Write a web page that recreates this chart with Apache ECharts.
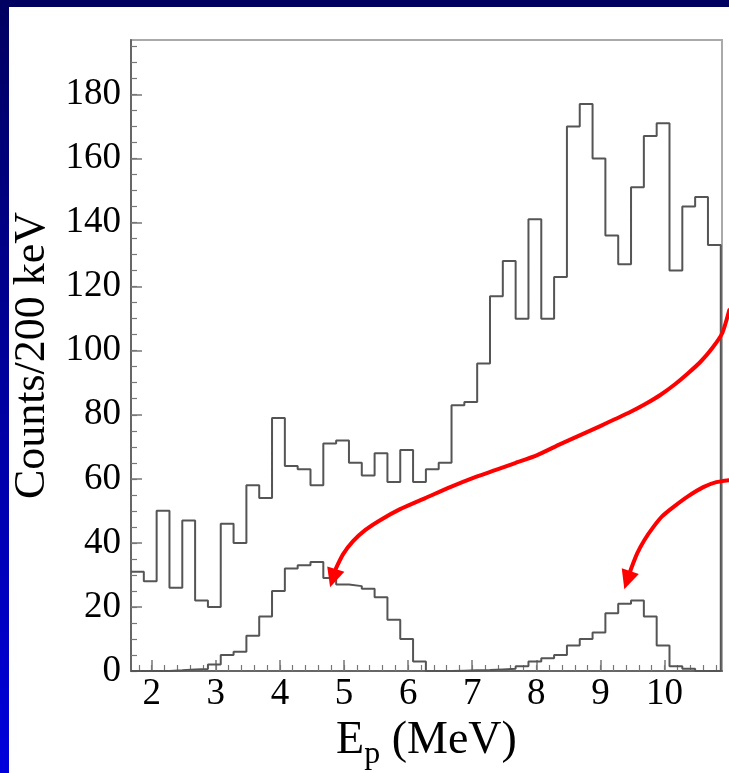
<!DOCTYPE html>
<html><head><meta charset="utf-8">
<script src="https://cdn.jsdelivr.net/npm/echarts@6/dist/echarts.min.js"></script>
<style>html,body{margin:0;padding:0;background:#fff;overflow:hidden}#c{width:729px;height:773px}</style>
</head><body><div id="c"></div>
<script>
// ---- data ----
const binStart = 1.677;   // MeV, left edge of the first 200 keV bin
const binWidth = 0.2;     // MeV
const totalCounts = [31,28,50,26,47,22,20,46,40,58,54,79,64,63,58,71,72,65,61,68,59,69,59,63,65,83,84,96,117,128,110,141,110,123,170,177,160,136,127,151,167,171,125,145,148,133];
const peakCounts  = [0,0,0,0.2,0.5,0.6,2,5,6,11,17,25,32,33,34,29,27,26.5,25.7,23,16,10,3,0,0,0.1,0.2,0.3,0.5,0.7,1.5,3,4,5,8,10,12,18,21,22,17,8,1.5,0.7,0,0];
const xTickLabels = [2,3,4,5,6,7,8,9,10];
const xMinorTicks = [1.8,2,2.2,2.4,2.6,2.8,3,3.2,3.4,3.6,3.8,4,4.2,4.4,4.6,4.8,5,5.2,5.4,5.6,5.8,6,6.2,6.4,6.6,6.8,7,7.2,7.4,7.6,7.8,8,8.2,8.4,8.6,8.8,9,9.2,9.4,9.6,9.8,10,10.2,10.4,10.6,10.8];
const yTickLabels = [0,20,40,60,80,100,120,140,160,180];
const yMinorTicks = [0,5,10,15,20,25,30,35,40,45,50,55,60,65,70,75,80,85,90,95,100,105,110,115,120,125,130,135,140,145,150,155,160,165,170,175,180,185,190,195];
const xRange = [1.677, 10.896];
const yRange = [0, 197];
// annotation arrows, in data coordinates [E (MeV), counts]
const arrow1Path = [[11.010,112.72],[10.901,105.53],[10.745,100.84],[10.558,96.47],[10.371,93.03],[10.168,89.59],[9.934,86.16],[9.700,83.34],[9.465,80.84],[9.231,78.66],[8.997,76.47],[8.685,73.66],[8.373,70.84],[8.014,67.41],[7.670,64.91],[7.358,62.72],[7.046,60.53],[6.656,57.41],[6.266,53.97],[5.875,50.53],[5.563,47.09],[5.329,43.97],[5.141,40.53],[4.986,36.47],[4.876,32.09],[4.783,26.16]];
const arrow2Path = [[11.010,59.59],[10.807,58.97],[10.604,57.41],[10.370,54.59],[10.136,51.16],[9.965,48.34],[9.824,44.91],[9.684,40.84],[9.575,36.78],[9.481,32.09],[9.372,25.53]];

// ---- build ----
function stepData(vals){
  const d = vals.map((v,k)=>[binStart + k*binWidth, v]);
  const endX = binStart + vals.length*binWidth;
  d.push([endX, vals[vals.length-1]]);
  d.push([endX, 0]);
  return d;
}
const FONT = 'Liberation Serif';
const chart = echarts.init(document.getElementById('c'), null, {renderer:'canvas'});
const axisCol = '#666';
const tickCol = '#777';
chart.setOption({
  animation:false,
  backgroundColor:'#fff',
  grid:{left:131, top:40, width:591, height:631, show:true, borderColor:'#aaa', borderWidth:2, backgroundColor:'transparent', outerBoundsMode:'none', containLabel:false},
  xAxis:[
    {type:'value', min:xRange[0], max:xRange[1], position:'bottom',
     axisLine:{show:true, onZero:false, lineStyle:{color:axisCol, width:2}},
     axisTick:{show:true, inside:true, length:11, customValues:xTickLabels, lineStyle:{color:tickCol, width:1.5}},
     axisLabel:{customValues:xTickLabels, fontFamily:FONT, fontSize:37, color:'#000', margin:5},
     splitLine:{show:false},
     name:'{e|E}{p|p}{e| (MeV)}', nameLocation:'middle', nameGap:35,
     nameTextStyle:{verticalAlign:'top', rich:{e:{fontFamily:FONT, fontSize:46, color:'#000'}, p:{fontFamily:FONT, fontSize:32, color:'#000', padding:[28,0,0,0]}}}},
    {type:'value', min:xRange[0], max:xRange[1], position:'bottom',
     axisLine:{show:false, onZero:false},
     axisTick:{show:true, inside:true, length:6, customValues:xMinorTicks, lineStyle:{color:tickCol, width:1.2}},
     axisLabel:{show:false}, splitLine:{show:false}}
  ],
  yAxis:[
    {type:'value', min:yRange[0], max:yRange[1], position:'left',
     axisLine:{show:true, onZero:false, lineStyle:{color:axisCol, width:2}},
     axisTick:{show:true, inside:true, length:11, customValues:yTickLabels, lineStyle:{color:tickCol, width:1.5}},
     axisLabel:{customValues:yTickLabels, fontFamily:FONT, fontSize:37, color:'#000', margin:10},
     splitLine:{show:false},
     name:'Counts/200 keV', nameLocation:'middle', nameGap:76, nameRotate:90,
     nameTextStyle:{fontFamily:FONT, fontSize:44, color:'#000'}},
    {type:'value', min:yRange[0], max:yRange[1], position:'left',
     axisLine:{show:false, onZero:false},
     axisTick:{show:true, inside:true, length:6, customValues:yMinorTicks, lineStyle:{color:tickCol, width:1.2}},
     axisLabel:{show:false}, splitLine:{show:false}}
  ],
  series:[
    {type:'line', step:'end', data:stepData(totalCounts), xAxisIndex:0, yAxisIndex:0, symbol:'none', lineStyle:{color:'#555', width:2}, clip:false, z:3},
    {type:'line', step:'end', data:stepData(peakCounts), xAxisIndex:0, yAxisIndex:0, symbol:'none', lineStyle:{color:'#555', width:2}, clip:false, z:3}
  ]
});

function toPx(p){ return chart.convertToPixel({xAxisIndex:0, yAxisIndex:0}, p); }
function arrowGraphics(path){
  const pts = path.map(toPx);
  const tip = pts[pts.length-1];
  const prev = pts[pts.length-2];
  let dx = tip[0]-prev[0], dy = tip[1]-prev[1];
  const L = Math.hypot(dx,dy); dx/=L; dy/=L;
  const headLen = 19, headHalf = 9;
  const base = [tip[0]-dx*headLen, tip[1]-dy*headLen];
  const line = pts.slice(0,-1).concat([[tip[0]-dx*(headLen-3), tip[1]-dy*(headLen-3)]]);
  return [
    {type:'polyline', shape:{points:line, smooth:0.2}, style:{stroke:'#ff0000', lineWidth:4, fill:null, lineCap:'round', lineJoin:'round'}, z:10, silent:true},
    {type:'polygon', shape:{points:[tip,[base[0]-dy*headHalf, base[1]+dx*headHalf],[base[0]+dy*headHalf, base[1]-dx*headHalf]]}, style:{fill:'#ff0000'}, z:10, silent:true}
  ];
}
const W = 729, H = 773;
chart.setOption({
  graphic:[
    {type:'rect', shape:{x:0,y:0,width:9,height:H}, style:{fill:new echarts.graphic.LinearGradient(0,0,0,1,[{offset:0,color:'#000060'},{offset:1,color:'#0000dc'}])}, z:20, silent:true},
    {type:'rect', shape:{x:0,y:0,width:W,height:7}, style:{fill:'#000060'}, z:20, silent:true}
  ].concat(arrowGraphics(arrow1Path), arrowGraphics(arrow2Path))
});
</script></body></html>
